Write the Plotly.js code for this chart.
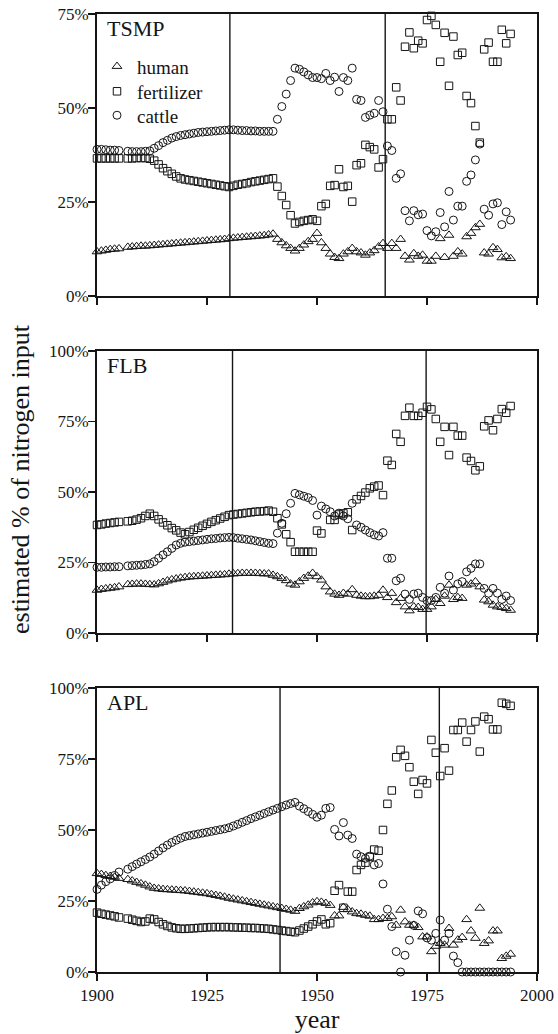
<!DOCTYPE html>
<html>
<head>
<meta charset="utf-8">
<script src="https://cdn.plot.ly/plotly-3.0.1.min.js"></script>
<style>html,body{margin:0;padding:0;background:#fff;}#chart{width:558px;height:1034px;}</style>
</head>
<body>
<div id="chart"></div>
<script>
// ---------- data ----------
const years = [1900,1901,1902,1903,1904,1905,1906,1907,1908,1909,
1910,1911,1912,1913,1914,1915,1916,1917,1918,1919,
1920,1921,1922,1923,1924,1925,1926,1927,1928,1929,
1930,1931,1932,1933,1934,1935,1936,1937,1938,1939,
1940,1941,1942,1943,1944,1945,1946,1947,1948,1949,
1950,1951,1952,1953,1954,1955,1956,1957,1958,1959,
1960,1961,1962,1963,1964,1965,1966,1967,1968,1969,
1970,1971,1972,1973,1974,1975,1976,1977,1978,1979,
1980,1981,1982,1983,1984,1985,1986,1987,1988,1989,
1990,1991,1992,1993,1994];

const seriesNames = ['human', 'fertilizer', 'cattle'];
const panelNames = ['TSMP', 'FLB', 'APL'];

// TSMP
const tsmpHuman = [11.8,12.0,12.2,12.4,12.5,12.6,null,13.0,13.1,13.2,
13.3,13.3,13.4,13.5,13.6,13.7,13.8,13.9,14.0,14.1,
14.2,14.3,14.4,14.5,14.6,14.7,14.8,14.9,15.0,15.1,
15.3,15.4,15.5,15.6,15.7,15.8,15.9,16.0,16.1,16.3,
16.5,15.1,14.2,13.4,12.7,12.0,12.7,13.6,14.5,15.1,
16.7,14.2,12.7,11.2,10.3,10.0,11.2,11.8,12.7,11.8,
11.5,10.9,11.5,12.1,13.1,14.0,12.7,14.0,12.7,15.1,
10.6,9.6,11.3,10.6,10.9,9.3,9.3,10.6,15.3,10.3,
16.2,10.6,11.8,11.2,15.8,16.7,18.2,19.1,11.5,11.2,
12.9,12.4,10.2,10.5,10.0];
const tsmpFertilizer = [36.6,36.6,36.6,36.6,36.6,36.6,null,36.6,36.6,36.7,
36.7,36.7,36.5,36.0,35.0,34.0,33.2,32.5,31.8,31.3,
31.0,30.8,30.6,30.4,30.2,30.0,29.8,29.6,29.4,29.2,
29.0,29.3,29.6,29.8,30.0,30.3,30.5,30.7,30.9,31.1,
31.3,29.1,26.6,24.2,21.5,19.3,19.7,20.0,20.2,20.4,
20.0,23.9,24.5,29.3,29.5,33.7,29.0,29.3,25.1,34.8,
35.3,40.2,39.6,39.0,34.2,36.4,47.0,47.0,55.5,52.0,
66.3,70.1,65.9,67.9,67.2,73.4,74.5,72.1,62.3,70.0,
55.9,69.0,64.1,64.7,53.2,51.3,45.2,40.8,65.6,67.4,
62.3,62.3,70.8,67.2,69.7];
const tsmpCattle = [39.0,39.0,38.9,38.8,38.8,38.7,null,38.5,38.4,38.4,
38.4,38.5,38.6,39.3,40.0,40.8,41.4,42.0,42.4,42.7,
42.9,43.1,43.3,43.5,43.6,43.7,43.8,43.9,44.0,44.1,
44.2,44.2,44.1,44.0,44.0,43.9,43.9,43.8,43.8,43.8,
43.8,47.0,50.4,53.7,57.3,60.6,60.3,59.6,58.8,58.1,
58.1,57.8,59.2,57.3,58.2,54.4,58.1,57.3,60.6,52.3,
52.0,47.5,48.1,48.6,52.0,49.0,39.9,38.7,31.3,32.5,
22.7,20.0,22.7,21.6,21.8,17.4,16.0,17.1,22.2,18.4,
27.8,20.2,23.9,23.9,30.5,32.2,36.2,40.4,23.1,21.5,
24.5,24.8,19.0,22.4,20.2];

// FLB
const flbHuman = [15.2,15.5,15.7,15.9,16.1,16.4,null,17.2,17.3,17.4,
17.4,17.3,17.2,17.1,17.5,18.0,18.5,18.9,19.2,19.5,
19.7,19.9,20.0,20.1,20.2,20.3,20.4,20.5,20.6,20.7,
20.9,21.0,21.1,21.2,21.2,21.2,21.2,21.1,21.0,21.0,
20.5,20.0,19.4,18.6,17.4,17.0,18.2,19.4,20.2,21.2,
20.0,18.8,16.4,14.6,13.8,13.4,14.1,13.8,15.4,13.4,
13.1,12.9,12.9,13.1,13.4,15.2,12.6,14.1,10.8,12.3,
9.3,7.9,9.3,9.1,8.4,8.4,9.3,11.9,10.5,13.1,
17.0,11.9,12.6,12.3,17.0,17.4,18.2,16.4,11.7,11.1,
9.9,9.3,9.1,8.7,8.1];
const flbFertilizer = [38.3,38.5,38.8,39.0,39.2,39.4,null,39.6,39.8,40.2,
40.7,41.5,42.3,41.5,40.3,39.2,38.2,37.2,36.4,35.6,
35.0,35.8,36.6,37.3,38.0,38.7,39.4,40.0,40.6,41.2,
41.8,42.0,42.2,42.4,42.6,42.8,43.0,43.1,43.2,43.4,
43.0,40.7,38.5,35.0,32.2,28.8,28.8,28.8,28.8,28.8,
36.3,35.3,null,40.1,40.1,42.0,42.4,42.8,36.5,47.4,
48.6,49.8,51.3,51.9,52.3,48.9,61.1,59.6,70.6,67.8,
77.0,79.9,77.0,77.0,78.1,80.2,79.3,75.9,67.8,73.1,
63.1,73.1,70.0,70.0,62.2,61.0,57.7,59.1,73.3,75.4,
71.9,75.9,79.4,78.1,80.5];
const flbCattle = [23.3,23.3,23.4,23.4,23.5,23.5,null,23.8,23.9,24.0,
24.1,24.3,24.5,25.3,26.5,27.7,28.8,30.0,31.2,31.8,
32.2,32.4,32.6,32.8,33.0,33.2,33.4,33.5,33.7,33.8,
33.9,33.8,33.6,33.4,33.2,33.0,32.7,32.4,32.1,31.8,
31.7,35.4,38.9,42.3,46.0,49.5,49.0,48.5,48.0,47.0,
41.8,45.0,44.0,43.0,41.5,42.5,41.5,40.5,46.0,38.3,
37.5,36.5,35.6,34.8,34.4,35.6,26.5,26.5,18.5,19.4,
13.8,11.9,13.8,14.1,12.6,11.5,11.5,12.6,16.2,14.1,
20.2,15.2,17.4,18.2,21.7,22.9,24.5,24.5,15.8,14.1,
15.8,14.1,11.9,13.1,11.5];

// APL
const aplHuman = [34.7,34.4,34.0,33.7,33.4,33.0,null,32.6,32.1,31.6,
31.1,30.6,30.0,29.5,29.3,29.1,29.0,28.9,28.8,28.7,
28.6,28.4,28.2,28.0,27.8,27.6,27.3,27.0,26.7,26.4,
26.0,25.7,25.4,25.1,24.8,24.5,24.2,23.9,23.6,23.3,
23.0,22.7,22.4,22.1,21.8,21.4,22.4,23.0,23.6,24.4,
24.8,24.6,24.2,23.5,19.8,19.8,22.8,22.0,21.2,20.6,
20.4,20.0,19.7,18.5,18.5,18.9,18.9,19.5,16.5,21.8,
17.7,16.5,16.5,15.7,12.4,12.4,7.2,9.1,10.1,9.5,
15.4,9.5,11.3,12.2,18.5,14.5,11.9,22.5,10.1,11.0,
14.5,14.5,4.8,5.6,6.3];
const aplFertilizer = [20.9,20.5,20.2,19.9,19.6,19.2,null,18.8,18.4,18.0,
17.6,17.8,18.8,18.5,17.6,16.8,16.2,15.7,15.4,15.2,
15.2,15.3,15.4,15.5,15.6,15.7,15.8,15.8,15.8,15.8,
15.8,15.7,15.7,15.6,15.6,15.5,15.5,15.4,15.3,15.2,
15.0,14.8,14.6,14.4,14.2,14.0,14.6,15.3,16.0,16.8,
17.8,18.5,16.8,17.2,28.6,30.6,22.6,28.3,28.3,35.9,
37.7,38.5,40.5,43.1,42.7,50.0,59.2,63.9,75.6,78.2,
76.1,72.1,67.0,62.7,67.6,66.4,81.7,77.2,69.0,78.8,
70.9,85.2,85.2,87.8,81.1,85.2,88.2,77.6,89.9,89.0,
85.4,85.4,94.8,94.4,93.7];
const aplCattle = [29.1,30.6,31.8,32.8,34.0,35.2,null,36.2,37.1,38.0,
38.8,39.6,40.5,41.5,42.6,43.7,44.7,45.6,46.4,47.1,
47.7,48.0,48.3,48.6,48.9,49.2,49.5,49.8,50.1,50.4,
50.8,51.4,52.0,52.7,53.3,54.0,54.6,55.2,55.8,56.4,
57.0,57.6,58.2,58.8,59.3,59.7,58.4,57.5,56.5,55.5,
54.5,55.2,57.6,57.9,50.2,47.9,52.6,48.2,47.0,41.5,
40.6,40.0,40.8,37.7,38.2,31.0,22.1,16.0,7.2,0.0,
5.9,11.2,16.4,21.5,20.5,12.0,11.2,13.6,18.3,11.2,
13.6,5.6,3.3,0,0,0,0,0,0,0,
0,0,0,0,0];

// vertical reference lines (year)
const tsmpBreaks = [1930.2, 1965.5];
const flbBreaks = [1930.8, 1974.8];
const aplBreaks = [1941.6, 1977.8];

const yTickVals = [[0,25,50,75],[0,25,50,75,100],[0,25,50,75,100]];
const xTickVals = [1900,1925,1950,1975,2000];

// ---------- styling ----------
const INK = '#151515';
const FONT = '"Liberation Serif", "Times New Roman", serif';
const symbols = ['triangle-up-open', 'square-open', 'circle-open'];
const sizes = [8.5, 7.5, 8];
const legendIds = ['legend', 'legend2', 'legend3'];
const legendTops = [0.9651, 0.9390, 0.9140];

const panels = [
  {name: panelNames[0], data: [tsmpHuman, tsmpFertilizer, tsmpCattle], breaks: tsmpBreaks, ymax: 75},
  {name: panelNames[1], data: [flbHuman, flbFertilizer, flbCattle], breaks: flbBreaks, ymax: 100},
  {name: panelNames[2], data: [aplHuman, aplFertilizer, aplCattle], breaks: aplBreaks, ymax: 100}
];

const traces = [];
panels.forEach((p, pi) => {
  const sfx = pi === 0 ? '' : String(pi + 1);
  p.data.forEach((vals, si) => {
    traces.push({
      type: 'scatter', mode: 'markers',
      x: years, y: vals,
      xaxis: 'x' + sfx, yaxis: 'y' + sfx,
      name: seriesNames[si], legendgroup: seriesNames[si],
      legend: legendIds[si],
      showlegend: pi === 0,
      cliponaxis: false,
      marker: {symbol: symbols[si], size: sizes[si], color: INK, line: {width: 1, color: INK}},
      hoverinfo: 'x+y+name'
    });
  });
});

const domains = [[0.7056, 1], [0.3539, 0.6482], [0, 0.2965]];

const layout = {
  width: 558, height: 1034,
  margin: {l: 97, r: 21, t: 14, b: 62},
  paper_bgcolor: 'white', plot_bgcolor: 'white',
  font: {family: FONT, size: 17, color: INK},
  showlegend: true,
  shapes: [], annotations: []
};

legendIds.forEach((id, i) => {
  layout[id] = {x: 0.0, y: legendTops[i], xanchor: 'left', yanchor: 'top',
    font: {family: FONT, size: 19, color: INK}, bgcolor: 'rgba(0,0,0,0)', borderwidth: 0};
});

panels.forEach((p, pi) => {
  const sfx = pi === 0 ? '' : String(pi + 1);
  layout['xaxis' + sfx] = {
    domain: [0, 1], anchor: 'y' + sfx, range: [1900, 2000],
    tickvals: xTickVals, ticktext: xTickVals.map(String),
    showticklabels: pi === 2,
    ticks: 'outside', ticklen: 7, tickwidth: 1.5, tickcolor: INK,
    showline: true, linecolor: INK, linewidth: 2, mirror: true,
    showgrid: false, zeroline: false, fixedrange: true,
    tickfont: {family: FONT, size: 17, color: INK}
  };
  if (pi === 2) {
    layout['xaxis' + sfx].title = {text: 'year', font: {family: FONT, size: 26, color: INK}, standoff: 0};
  }
  layout['yaxis' + sfx] = {
    domain: domains[pi], anchor: 'x' + sfx, range: [0, p.ymax],
    tickvals: yTickVals[pi], ticktext: yTickVals[pi].map(v => v + '%'),
    ticks: 'outside', ticklen: 7, tickwidth: 1.5, tickcolor: INK,
    ticklabelstandoff: -4,
    showline: true, linecolor: INK, linewidth: 2, mirror: true,
    showgrid: false, zeroline: false, fixedrange: true,
    tickfont: {family: FONT, size: 17, color: INK}
  };
  p.breaks.forEach(b => {
    layout.shapes.push({type: 'line', xref: 'x' + sfx, yref: 'y' + sfx + ' domain',
      x0: b, x1: b, y0: 0, y1: 1, line: {color: INK, width: 1.4}});
  });
  layout.annotations.push({
    text: p.name, xref: 'x' + sfx + ' domain', yref: 'y' + sfx + ' domain',
    x: 0.018, y: 0.95, xanchor: 'left', yanchor: 'middle', showarrow: false,
    font: {family: FONT, size: 22, color: INK}
  });
});

layout.annotations.push({
  text: 'estimated % of nitrogen input', xref: 'paper', yref: 'paper',
  x: -0.175, y: 0.5146, xanchor: 'center', yanchor: 'middle', textangle: -90,
  showarrow: false, font: {family: FONT, size: 26, color: INK}
});

Plotly.newPlot('chart', traces, layout, {displayModeBar: false, staticPlot: true});
</script>
</body>
</html>
